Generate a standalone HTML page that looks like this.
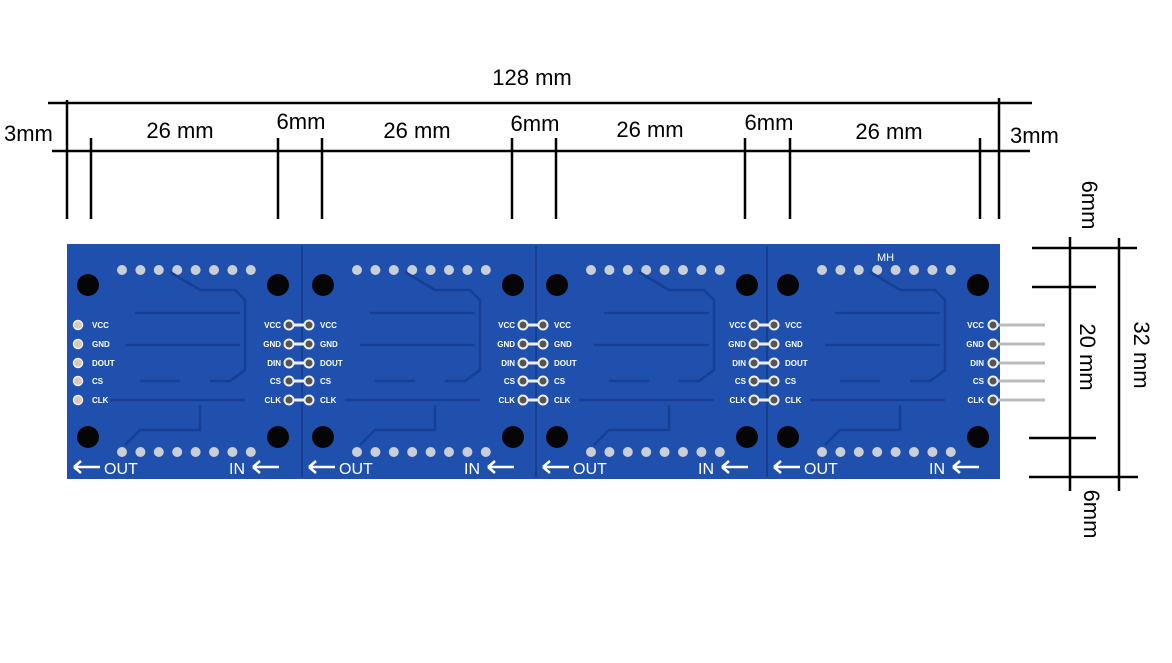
<!DOCTYPE html>
<html><head><meta charset="utf-8"><style>
html,body{margin:0;padding:0;background:#fff;}
svg{display:block;}
text{font-family:"Liberation Sans",sans-serif;}
</style></head><body>
<svg id="s" width="1172" height="663" viewBox="0 0 1172 663" xmlns="http://www.w3.org/2000/svg">
<rect width="1172" height="663" fill="#fff"/>
<rect x="67" y="244" width="933" height="235" fill="#1f50ae"/>
<g id="mods"></g>
<g stroke="#000" stroke-width="2.5">
<line x1="48" y1="103" x2="1032" y2="103"/>
<line x1="52" y1="151" x2="1030" y2="151"/>
<line x1="67" y1="100" x2="67" y2="219"/>
<line x1="999" y1="98" x2="999" y2="219"/>
<line x1="91" y1="138" x2="91" y2="219"/>
<line x1="278" y1="138" x2="278" y2="219"/>
<line x1="322" y1="138" x2="322" y2="219"/>
<line x1="512" y1="138" x2="512" y2="219"/>
<line x1="556" y1="138" x2="556" y2="219"/>
<line x1="745" y1="138" x2="745" y2="219"/>
<line x1="790" y1="138" x2="790" y2="219"/>
<line x1="980" y1="138" x2="980" y2="219"/>
<line x1="1032" y1="248" x2="1137" y2="248"/>
<line x1="1032" y1="287" x2="1096" y2="287"/>
<line x1="1029" y1="438" x2="1096" y2="438"/>
<line x1="1029" y1="477" x2="1138" y2="477"/>
<line x1="1070" y1="237" x2="1070" y2="491"/>
<line x1="1119" y1="238" x2="1119" y2="491"/>
</g>
<g font-size="22" fill="#000">
<text x="532" y="85" text-anchor="middle">128 mm</text>
<text x="4" y="141">3mm</text>
<text x="1010" y="143">3mm</text>
<text x="180" y="138" text-anchor="middle">26 mm</text>
<text x="417" y="138" text-anchor="middle">26 mm</text>
<text x="650" y="137" text-anchor="middle">26 mm</text>
<text x="889" y="139" text-anchor="middle">26 mm</text>
<text x="301" y="129" text-anchor="middle">6mm</text>
<text x="535" y="131" text-anchor="middle">6mm</text>
<text x="769" y="130" text-anchor="middle">6mm</text>
<text transform="translate(1082,205) rotate(90)" text-anchor="middle">6mm</text>
<text transform="translate(1080,357) rotate(90)" text-anchor="middle">20 mm</text>
<text transform="translate(1134,355) rotate(90)" text-anchor="middle">32 mm</text>
<text transform="translate(1084,514) rotate(90)" text-anchor="middle">6mm</text>
</g>
</svg>
<script>
var g=document.getElementById('mods'),h='';
var offs=[0,235,469,700];var labsL=['VCC','GND','DOUT','CS','CLK'],labsR=['VCC','GND','DIN','CS','CLK'];
var ys=[325,344,363,381,400];
function arrow(x,y){return '<path d="M'+x+' '+y+'h26M'+x+' '+y+'l7 -6M'+x+' '+y+'l7 6" stroke="#fff" stroke-width="2.5" fill="none"/>';}
offs.forEach(function(o,i){
 if(i>0)h+='<line x1="'+(67+o)+'" y1="246" x2="'+(67+o)+'" y2="477" stroke="#16408f" stroke-width="2"/>';
 [[88,285],[278,285],[88,437],[278,437]].forEach(function(p){h+='<circle cx="'+(p[0]+o)+'" cy="'+p[1]+'" r="11" fill="#050505"/>';});
 for(var k=0;k<8;k++){var x=122+o+k*18.4;h+='<circle cx="'+x+'" cy="270" r="5" fill="#c9ced8"/><circle cx="'+x+'" cy="452" r="5" fill="#c9ced8"/>';}
 h+='<g stroke="#163f95" stroke-width="2.5" fill="none"><path d="M'+(135+o)+' 313H'+(240+o)+'M'+(125+o)+' 345H'+(240+o)+'M'+(140+o)+' 381H'+(180+o)+'M'+(210+o)+' 381H'+(230+o)+'L'+(245+o)+' 370V300L'+(235+o)+' 290H'+(200+o)+'L'+(170+o)+' 272M'+(110+o)+' 400H'+(245+o)+'M'+(200+o)+' 405V430H'+(140+o)+'L'+(125+o)+' 445"/></g>';
 ys.forEach(function(y,j){
  if(i==0){h+='<circle cx="78" cy="'+y+'" r="4.5" fill="#d8c8b8" stroke="#eee" stroke-width="1.5"/><text x="92" y="'+(y+3)+'" font-size="8" fill="#fff" font-weight="bold">'+labsL[j]+'</text>';}
  else{var a=o+54;h+='<line x1="'+(a)+'" y1="'+y+'" x2="'+(a+20)+'" y2="'+y+'" stroke="#eee" stroke-width="3"/><circle cx="'+a+'" cy="'+y+'" r="4.5" fill="#555" stroke="#eee" stroke-width="2"/><circle cx="'+(a+20)+'" cy="'+y+'" r="4.5" fill="#555" stroke="#eee" stroke-width="2"/><text x="'+(a-8)+'" y="'+(y+3)+'" font-size="8" fill="#fff" font-weight="bold" text-anchor="end">'+labsR[j]+'</text><text x="'+(a+31)+'" y="'+(y+3)+'" font-size="8" fill="#fff" font-weight="bold">'+labsL[j]+'</text>';}
 });
 h+=arrow(74+o,467)+'<text x="'+(104+o)+'" y="474" font-size="16" fill="#fff">OUT</text><text x="'+(229+o)+'" y="474" font-size="16" fill="#fff">IN</text>'+arrow(253+o,467);
});
ys.forEach(function(y,j){h+='<line x1="994" y1="'+y+'" x2="1045" y2="'+y+'" stroke="#bbb" stroke-width="3"/><circle cx="993" cy="'+y+'" r="4.5" fill="#555" stroke="#eee" stroke-width="2"/><text x="984" y="'+(y+3)+'" font-size="8" fill="#fff" font-weight="bold" text-anchor="end">'+labsR[j]+'</text>';});
h+='<text x="877" y="261" font-size="11" fill="#fff" font-family="Liberation Serif">MH</text>';
g.innerHTML=h;
</script>
</body></html>
